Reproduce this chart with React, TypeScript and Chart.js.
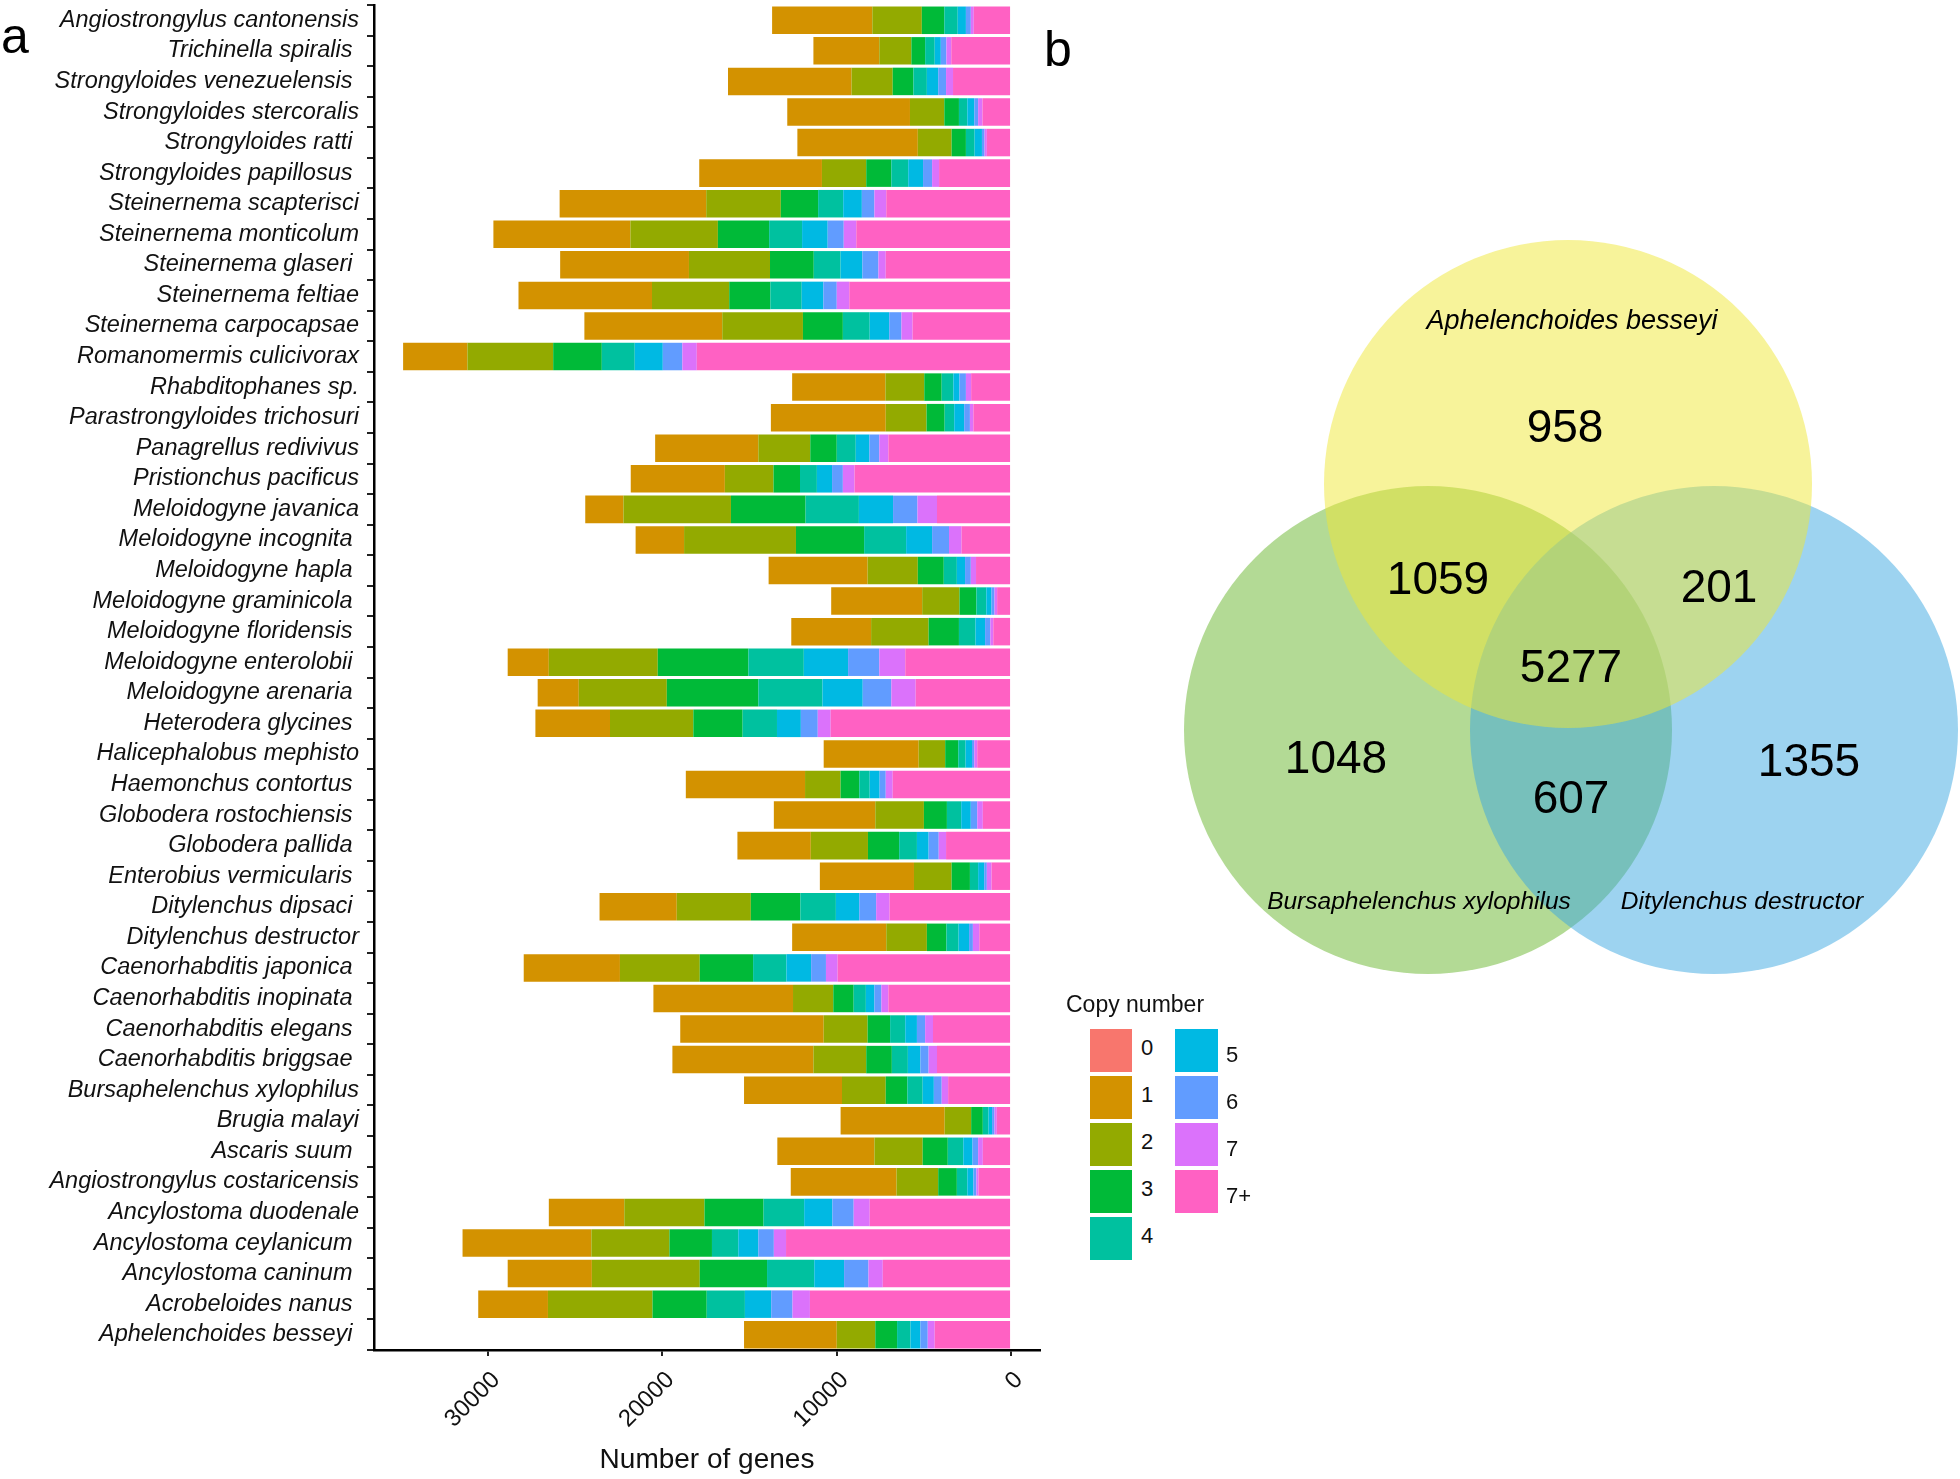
import React, { useEffect, useRef } from "react";
import { Chart, registerables } from "chart.js";
Chart.register(...registerables);

const FONT = "'Liberation Sans', Arial, Helvetica, sans-serif";

const species = [
  "Angiostrongylus cantonensis", "Trichinella spiralis ", "Strongyloides venezuelensis ",
  "Strongyloides stercoralis", "Strongyloides ratti ", "Strongyloides papillosus ",
  "Steinernema scapterisci", "Steinernema monticolum", "Steinernema glaseri ",
  "Steinernema feltiae", "Steinernema carpocapsae", "Romanomermis culicivorax",
  "Rhabditophanes sp.", "Parastrongyloides trichosuri", "Panagrellus redivivus",
  "Pristionchus pacificus", "Meloidogyne javanica", "Meloidogyne incognita ",
  "Meloidogyne hapla ", "Meloidogyne graminicola ", "Meloidogyne floridensis ",
  "Meloidogyne enterolobii ", "Meloidogyne arenaria ", "Heterodera glycines ",
  "Halicephalobus mephisto", "Haemonchus contortus ", "Globodera rostochiensis ",
  "Globodera pallida ", "Enterobius vermicularis ", "Ditylenchus dipsaci ",
  "Ditylenchus destructor", "Caenorhabditis japonica ", "Caenorhabditis inopinata ",
  "Caenorhabditis elegans ", "Caenorhabditis briggsae ", "Bursaphelenchus xylophilus",
  "Brugia malayi", "Ascaris suum ", "Angiostrongylus costaricensis",
  "Ancylostoma duodenale", "Ancylostoma ceylanicum ", "Ancylostoma caninum ",
  "Acrobeloides nanus ", "Aphelenchoides besseyi ",
];

const copy0 = [0,0,0,0,0,0,0,0,0,0,0,0,0,0,0,0,0,0,0,0,0,0,0,0,0,0,0,0,0,0,0,0,0,0,0,0,0,0,0,0,0,0,0,0];
const copy1 = [5750,3780,7090,7040,6910,7040,8410,7860,7390,7660,7910,3690,5350,6590,5920,5400,2190,2780,5680,5220,4580,2360,2360,4280,5450,6840,5820,4210,5400,4430,5400,5520,8010,8230,8090,5620,5970,5570,6070,4330,7390,4830,4000,5320];
const copy2 = [2840,1840,2360,1970,1940,2540,4280,5020,4650,4430,4630,4920,2230,2340,2980,2790,6170,6420,2880,2140,3300,6250,5050,4780,1520,2040,2790,3280,2160,4250,2330,4580,2310,2520,3030,2510,1520,2770,2390,4600,4480,6190,6000,2210];
const copy3 = [1290,790,1190,840,820,1440,2140,2940,2510,2360,2290,2790,1000,1040,1520,1520,4280,3910,1490,970,1740,5200,5250,2830,750,1070,1320,1790,1050,2840,1120,3060,1170,1290,1470,1240,670,1440,1070,3390,2440,3860,3110,1250];
const copy4 = [770,550,770,480,500,970,1440,1890,1540,1800,1540,1890,670,550,1090,970,3060,2410,750,570,950,3180,3680,1970,420,600,820,1020,470,2040,700,1910,700,870,920,880,330,890,600,2330,1510,2710,2190,770];
const copy5 = [470,350,650,400,420,850,1070,1470,1250,1240,1120,1610,350,570,780,870,1960,1490,470,300,550,2540,2310,1370,370,570,550,670,350,1340,600,1420,490,670,720,640,200,530,350,1620,1150,1710,1510,570];
const copy6 = [280,320,450,220,150,520,720,920,920,770,700,1120,370,330,570,620,1400,970,330,170,300,1790,1640,970,130,350,370,580,150,970,220,850,400,470,470,450,140,320,170,1220,890,1400,1220,420];
const copy7 = [170,280,400,250,130,400,680,720,420,720,640,830,300,200,520,670,1120,720,300,150,170,1490,1400,740,170,400,320,420,270,770,370,670,400,450,480,370,130,270,120,920,700,820,1000,400];
const copy7plus = [2140,3430,3330,1640,1390,4130,7160,8880,7190,9280,5650,18030,2290,2160,7040,8980,4250,2840,2010,800,1020,6070,5470,10350,1940,6790,1620,3730,1120,6970,1820,9950,7040,4480,4250,3610,820,1620,1870,8110,12910,7360,11540,4380];

const copyLabels = ["0", "1", "2", "3", "4", "5", "6", "7", "7+"];
const copyColors = ["#F8766D", "#D39200", "#93AA00", "#00BA38", "#00C19F", "#00B9E3", "#619CFF", "#DB72FB", "#FF61C3"];
const copySeries = [copy0, copy1, copy2, copy3, copy4, copy5, copy6, copy7, copy7plus];

const xTicks = [0, 10000, 20000, 30000];

// Venn diagram data
const vennSets = ["Bursaphelenchus xylophilus", "Ditylenchus destructor", "Aphelenchoides besseyi"];
const vennCounts = [958, 1059, 201, 5277, 1048, 1355, 607];

// layout (page pixel coordinates) for the Venn panel
const vennCircleX = [1428, 1714, 1568];
const vennCircleY = [730, 730, 484];
const vennRadius = 244;
const vennFill = ["rgba(103,181,43,0.5)", "rgba(59,167,225,0.5)", "rgba(239,231,53,0.5)"];
const vennCountX = [1565, 1438, 1719, 1571, 1336, 1809, 1571];
const vennCountY = [429, 581, 589, 669, 760, 763, 800];
const vennNameX = [1419, 1742, 1572];
const vennNameY = [902, 902, 321];
const vennNameSize = [24.5, 24.5, 27];

function BarPanel() {
  const ref = useRef<HTMLCanvasElement | null>(null);
  useEffect(() => {
    if (!ref.current) return;
    const order = [8, 7, 6, 5, 4, 3, 2, 1, 0];
    const chart = new Chart(ref.current, {
      type: "bar",
      data: {
        labels: species,
        datasets: order.map((i) => ({
          label: copyLabels[i],
          data: copySeries[i],
          backgroundColor: copyColors[i],
          borderWidth: 0,
          barPercentage: 0.9,
          categoryPercentage: 1.0,
        })),
      },
      options: {
        indexAxis: "y",
        responsive: false,
        animation: false,
        layout: { autoPadding: false, padding: { top: 5, right: 20, left: 0, bottom: 0 } },
        plugins: { legend: { display: false }, tooltip: { enabled: false } },
        scales: {
          x: {
            type: "linear",
            stacked: true,
            reverse: true,
            min: -1660,
            max: 36550,
            afterBuildTicks: (scale: any) => {
              scale.ticks = xTicks.map((v) => ({ value: v }));
            },
            afterFit: (scale: any) => {
              scale.height = 129;
              scale.paddingLeft = 0;
              scale.paddingRight = 0;
              scale.paddingTop = 0;
              scale.paddingBottom = 0;
            },
            grid: { display: true, drawOnChartArea: false, drawTicks: true, tickLength: 6, color: "#222", lineWidth: 2 },
            border: { display: true, color: "#000", width: 2.5 },
            ticks: {
              color: "#111",
              font: { family: FONT, size: 24 },
              minRotation: 45,
              maxRotation: 45,
              padding: 10,
              labelOffset: 8,
              callback: (v: any) => String(v),
            },
            title: {
              display: true,
              text: "Number of genes",
              color: "#111",
              font: { family: FONT, size: 28 },
              padding: { top: 0, bottom: 2 },
            },
          },
          y: {
            type: "category",
            stacked: true,
            afterFit: (scale: any) => {
              scale.width = 374;
              scale.paddingLeft = 0;
              scale.paddingRight = 0;
              scale.paddingTop = 0;
              scale.paddingBottom = 0;
            },
            grid: { display: true, drawOnChartArea: false, drawTicks: true, tickLength: 7, color: "#222", lineWidth: 2 },
            border: { display: true, color: "#000", width: 2.5 },
            ticks: {
              autoSkip: false,
              color: "#111",
              padding: 8,
              font: { family: FONT, size: 23.5, style: "italic" },
            },
          },
        },
      },
    });
    return () => chart.destroy();
  }, []);
  return (
    <canvas
      ref={ref}
      width={1060}
      height={1479}
      style={{ position: "absolute", left: 0, top: 0, width: 1060, height: 1479 }}
    />
  );
}

function VennPanel() {
  const ref = useRef<HTMLCanvasElement | null>(null);
  useEffect(() => {
    if (!ref.current) return;
    const textPlugin = {
      id: "vennText",
      afterDatasetsDraw(chart: any) {
        const { ctx, scales } = chart;
        const xs = scales.x;
        const ys = scales.y;
        ctx.save();
        ctx.fillStyle = "#000";
        ctx.textAlign = "center";
        ctx.textBaseline = "middle";
        ctx.font = `46px ${FONT}`;
        vennCounts.forEach((c, i) => {
          ctx.fillText(String(c), xs.getPixelForValue(vennCountX[i]), ys.getPixelForValue(vennCountY[i]));
        });
        vennSets.forEach((s, i) => {
          ctx.font = `italic ${vennNameSize[i]}px ${FONT}`;
          ctx.fillText(s, xs.getPixelForValue(vennNameX[i]), ys.getPixelForValue(vennNameY[i]));
        });
        ctx.restore();
      },
    };
    const chart = new Chart(ref.current, {
      type: "bubble",
      data: {
        datasets: [
          {
            label: "Venn",
            data: vennSets.map((_, i) => ({ x: vennCircleX[i], y: vennCircleY[i], r: vennRadius })),
            backgroundColor: vennFill,
            borderWidth: 0,
            hoverRadius: 0,
            clip: false as any,
          },
        ],
      },
      options: {
        responsive: false,
        animation: false,
        layout: { autoPadding: false, padding: 0 },
        plugins: { legend: { display: false }, tooltip: { enabled: false } },
        scales: {
          x: { type: "linear", min: 1170, max: 1960, display: false },
          y: { type: "linear", min: 200, max: 1000, reverse: true, display: false },
        },
      },
      plugins: [textPlugin],
    });
    return () => chart.destroy();
  }, []);
  return (
    <canvas
      ref={ref}
      width={790}
      height={800}
      style={{ position: "absolute", left: 1170, top: 200, width: 790, height: 800 }}
    />
  );
}

function Legend() {
  const col1 = [0, 1, 2, 3, 4];
  const col2 = [5, 6, 7, 8];
  const rowTop = [1029, 1076, 1123, 1170, 1217];
  return (
    <div style={{ fontFamily: FONT, color: "#111" }}>
      <div style={{ position: "absolute", left: 1066, top: 990, fontSize: 23, lineHeight: "28px" }}>Copy number</div>
      {col1.map((k, r) => (
        <React.Fragment key={"a" + k}>
          <div style={{ position: "absolute", left: 1090, top: rowTop[r], width: 42, height: 43, background: copyColors[k] }} />
          <div style={{ position: "absolute", left: 1141, top: rowTop[r] + 6, fontSize: 22, lineHeight: "26px" }}>{copyLabels[k]}</div>
        </React.Fragment>
      ))}
      {col2.map((k, r) => (
        <React.Fragment key={"b" + k}>
          <div style={{ position: "absolute", left: 1175, top: rowTop[r], width: 43, height: 43, background: copyColors[k] }} />
          <div style={{ position: "absolute", left: 1226, top: rowTop[r] + 13, fontSize: 22, lineHeight: "26px" }}>{copyLabels[k]}</div>
        </React.Fragment>
      ))}
    </div>
  );
}

export default function App() {
  return (
    <div style={{ position: "absolute", left: 0, top: 0, width: 1960, height: 1479, background: "#fff", overflow: "hidden" }}>
      <BarPanel />
      <VennPanel />
      <Legend />
      <div style={{ position: "absolute", left: 1, top: 8, fontFamily: FONT, fontSize: 50, lineHeight: "56px", color: "#000" }}>a</div>
      <div style={{ position: "absolute", left: 1044, top: 21, fontFamily: FONT, fontSize: 50, lineHeight: "56px", color: "#000" }}>b</div>
    </div>
  );
}
